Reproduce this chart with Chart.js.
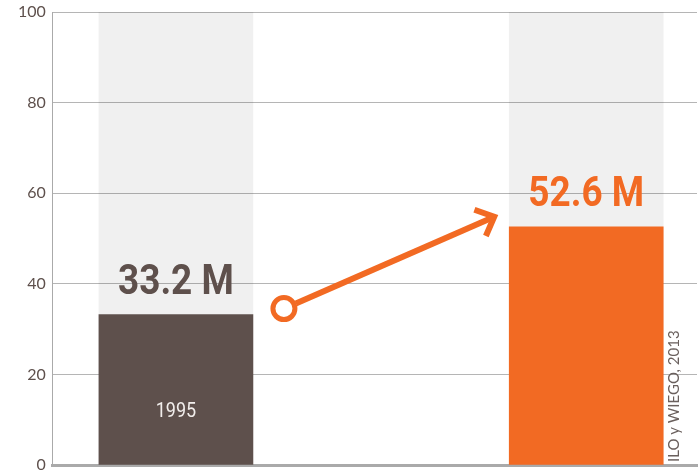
<!DOCTYPE html>
<html>
<head>
<meta charset="utf-8">
<script src="https://cdn.jsdelivr.net/npm/chart.js@4.4.0/dist/chart.umd.min.js"></script>
<style>
  html, body { margin: 0; padding: 0; background: #fff; }
  #wrap { width: 700px; height: 471px; }
</style>
</head>
<body>
<div id="wrap"><canvas id="chart" width="700" height="471"></canvas></div>
<script>
// Chart data
const categories = ['1995', ''];
const values = [33.2, 52.6];
const valueLabels = ['33.2 M', '52.6 M'];
const maxValues = [100, 100];
const yTicks = [0, 20, 40, 60, 80, 100];
const barColors = ['#5e504c', '#f26a23'];
const sourceText = 'ILO y WIEGO, 2013';

const ORANGE = '#f26a23';

// Labels, arrow and source drawn on top of the bars
const overlayPlugin = {
  id: 'overlay',
  afterDatasetsDraw(chart) {
    const ctx = chart.ctx;
    const meta = chart.getDatasetMeta(0);
    const yScale = chart.scales.y;
    const area = chart.chartArea;

    ctx.save();
    meta.data.forEach(function (bar, i) {
      // value label above the bar
      ctx.save();
      ctx.translate(bar.x, bar.y - 21);
      ctx.scale(0.88, 1);
      ctx.font = 'bold 42px Roboto';
      ctx.textAlign = 'center';
      ctx.textBaseline = 'alphabetic';
      ctx.fillStyle = barColors[i];
      ctx.fillText(valueLabels[i], 0, 0);
      ctx.restore();

      // category label inside the bar
      if (categories[i]) {
        ctx.save();
        ctx.translate(bar.x, yScale.getPixelForValue(0) - 48);
        ctx.scale(0.9, 1);
        ctx.font = '20px Roboto';
        ctx.textAlign = 'center';
        ctx.fillStyle = '#f2eeec';
        ctx.fillText(categories[i], 0, 0);
        ctx.restore();
      }
    });

    // arrow from first bar to second
    const b0 = meta.data[0];
    const b1 = meta.data[1];
    const sx = b0.x + b0.width / 2 + 31;
    const sy = b0.y - 6;
    const ex = b1.x - b1.width / 2 - 15;
    const ey = b1.y - 10;
    const ang = Math.atan2(ey - sy, ex - sx);
    const r = 11;

    ctx.strokeStyle = ORANGE;
    ctx.lineWidth = 5;
    ctx.beginPath();
    ctx.arc(sx, sy, r, 0, Math.PI * 2);
    ctx.stroke();

    ctx.lineWidth = 6;
    ctx.lineJoin = 'miter';
    ctx.beginPath();
    ctx.moveTo(sx + Math.cos(ang) * (r + 2), sy + Math.sin(ang) * (r + 2));
    ctx.lineTo(ex - Math.cos(ang) * 3, ey - Math.sin(ang) * 3);
    ctx.stroke();

    const armLen = 21;
    const spread = 43 * Math.PI / 180;
    ctx.beginPath();
    ctx.moveTo(ex + Math.cos(ang + Math.PI - spread) * armLen, ey + Math.sin(ang + Math.PI - spread) * armLen);
    ctx.lineTo(ex, ey);
    ctx.lineTo(ex + Math.cos(ang + Math.PI + spread) * armLen, ey + Math.sin(ang + Math.PI + spread) * armLen);
    ctx.stroke();

    // source, rotated
    ctx.translate(area.right - 18, area.bottom - 3);
    ctx.rotate(-Math.PI / 2);
    ctx.font = '15px Lato';
    ctx.fillStyle = '#6a605d';
    ctx.textAlign = 'left';
    ctx.textBaseline = 'alphabetic';
    ctx.fillText(sourceText, 0, 0);
    ctx.restore();
  }
};

const ctx = document.getElementById('chart').getContext('2d');
new Chart(ctx, {
  type: 'bar',
  data: {
    datasets: [
      {
        label: 'Valor',
        data: values.map((v, i) => ({ x: i, y: v })),
        backgroundColor: barColors,
        barThickness: 154,
        grouped: false,
        order: 0,
      },
      {
        label: 'Fondo',
        data: maxValues.map((v, i) => ({ x: i, y: v })),
        backgroundColor: 'rgba(0,0,0,0.06)',
        barThickness: 154,
        grouped: false,
        order: 1,
      },
    ],
  },
  options: {
    responsive: false,
    animation: false,
    layout: { padding: { left: 11, right: 3, top: 12, bottom: -2 } },
    plugins: {
      legend: { display: false },
      tooltip: { enabled: false },
    },
    scales: {
      x: {
        type: 'linear',
        offset: false,
        min: -0.3,
        max: 1.27,
        grid: { display: false },
        ticks: { display: false },
        border: { display: true, color: '#aaaaaa', width: 3 },
      },
      y: {
        min: 0,
        max: 100,
        afterBuildTicks: function (scale) {
          scale.ticks = yTicks.map((v) => ({ value: v }));
        },
        afterFit: function (scale) {
          // let the top and bottom labels run past the plot area
          scale.paddingTop = 0;
          scale.paddingBottom = 0;
        },
        grid: { color: '#b5b5b5', lineWidth: 1, drawTicks: false },
        border: { color: '#aaaaaa', width: 1 },
        ticks: {
          padding: 7,
          color: '#5e504c',
          font: { family: 'Lato', size: 16 },
        },
      },
    },
  },
  plugins: [overlayPlugin],
});
</script>
</body>
</html>
